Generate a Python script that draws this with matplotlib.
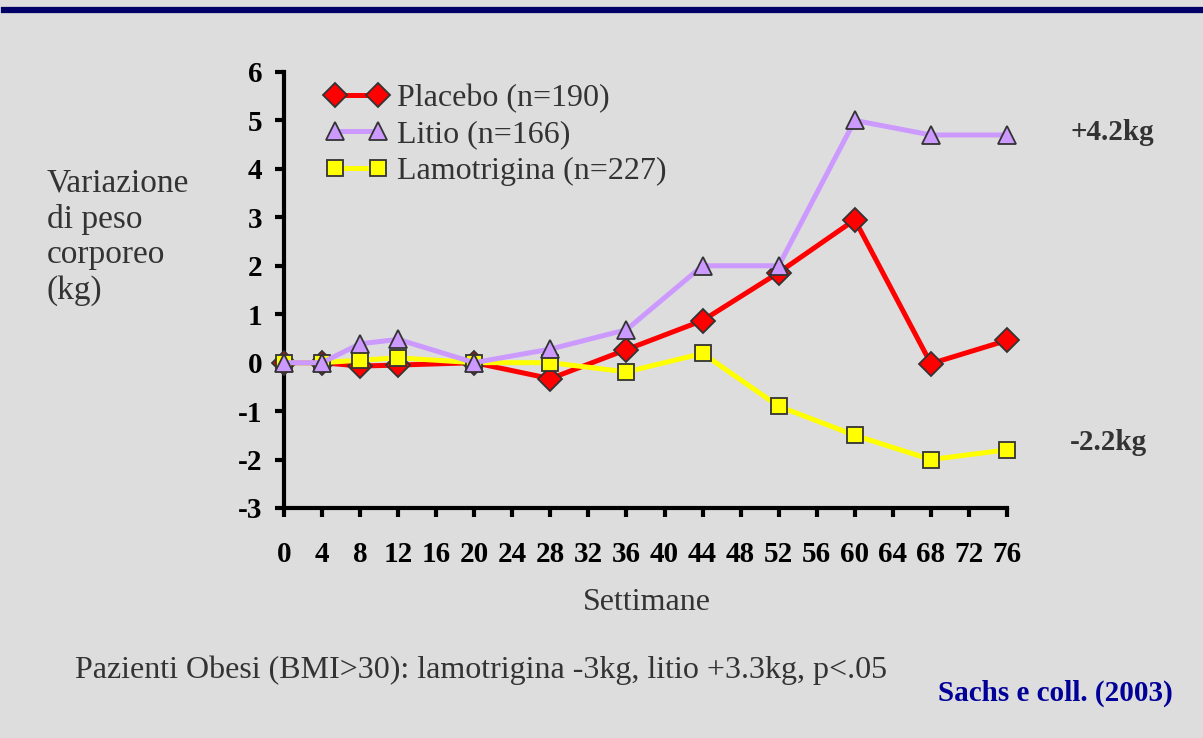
import matplotlib
matplotlib.use("Agg")
import matplotlib.pyplot as plt
from matplotlib.lines import Line2D

weeks = [0, 4, 8, 12, 20, 28, 36, 44, 52, 60, 68, 76]
placebo = [0, 0, -0.07, -0.05, 0, -0.33, 0.27, 0.87, 1.86, 2.95, -0.02, 0.46]
litio = [0, 0, 0.39, 0.48, 0, 0.28, 0.68, 2.0, 2.0, 5.0, 4.7, 4.7]
lamotrigina = [0, 0, 0.05, 0.1, 0, 0, -0.19, 0.19, -0.9, -1.5, -2.0, -1.8]
labels = ["Placebo (n=190)", "Litio (n=166)", "Lamotrigina (n=227)"]
xticks = list(range(0, 77, 4))
yticks = list(range(-3, 7))

BG = "#dddddd"
TXT = "#333333"
SERIF = ["Liberation Serif", "DejaVu Serif"]
plt.rcParams["font.family"] = SERIF
plt.rcParams["axes.unicode_minus"] = False

fig = plt.figure(figsize=(12.03, 7.38), dpi=100, facecolor=BG)
ax = fig.add_axes([284/1203, 1-508/738, (1007-284)/1203, (508-72)/738])
ax.set_facecolor(BG)

# top navy bar
fig.add_artist(Line2D([4/1203, 1], [1-10/738, 1-10/738], color="#000066", lw=4.5,
                      transform=fig.transFigure))

mec = "#333333"
l1, = ax.plot(weeks, placebo, color="#ff0000", lw=3.6, marker="D", ms=12,
              mfc="#ff0000", mec=mec, mew=1.3, zorder=3, clip_on=False)
l3, = ax.plot(weeks, lamotrigina, color="#ffff00", lw=3.6, marker="s", ms=12,
              mfc="#ffff00", mec=mec, mew=1.3, zorder=4, clip_on=False)
l2, = ax.plot(weeks, litio, color="#cc99ff", lw=3.6, marker="^", ms=13,
              mfc="#cc99ff", mec=mec, mew=1.3, zorder=5, clip_on=False)

ax.set_xlim(0, 76)
ax.set_ylim(-3, 6)
ax.set_xticks(xticks)
ax.set_yticks(yticks)
for s in ["top", "right"]:
    ax.spines[s].set_visible(False)
for s in ["left", "bottom"]:
    ax.spines[s].set_linewidth(3)
    ax.spines[s].set_color("black")
ax.tick_params(axis="both", direction="out", length=6.5, width=3, color="black",
               labelsize=21)
ax.tick_params(axis="x", pad=17)
ax.tick_params(axis="y", pad=9)
for lab in ax.get_xticklabels() + ax.get_yticklabels():
    lab.set_fontweight("bold")

leg = ax.legend([l1, l2, l3], labels, loc="upper left", bbox_to_anchor=(0.0573, 0.972),
                frameon=False, numpoints=2, handlelength=1.95, handletextpad=0.3,
                labelspacing=0.21, borderpad=0, borderaxespad=0,
                prop={"family": SERIF, "size": 23})
for t in leg.get_texts():
    t.set_color(TXT)

fig.text(47/1203, 1-237/738, "Variazione\ndi peso\ncorporeo\n(kg)", ha="left",
         va="center", fontsize=24, color=TXT, linespacing=1.2)

fig.text(647/1203, 1-603/738, "Settimane", ha="center", va="center", fontsize=23,
         color=TXT)
fig.text(75/1203, 1-670/738, "Pazienti Obesi (BMI>30): lamotrigina -3kg, litio +3.3kg, p<.05",
         ha="left", va="center", fontsize=23, color=TXT)
fig.text(1173/1203, 1-693/738, "Sachs e coll. (2003)", ha="right", va="center",
         fontsize=21, fontweight="bold", color="#000099")
fig.text(1071/1203, 1-133/738, "+4.2kg", ha="left", va="center", fontsize=21,
         fontweight="bold", color=TXT)
fig.text(1070/1203, 1-443/738, "-2.2kg", ha="left", va="center", fontsize=21,
         fontweight="bold", color=TXT)

fig.savefig("out.png", dpi=100, facecolor=BG)
